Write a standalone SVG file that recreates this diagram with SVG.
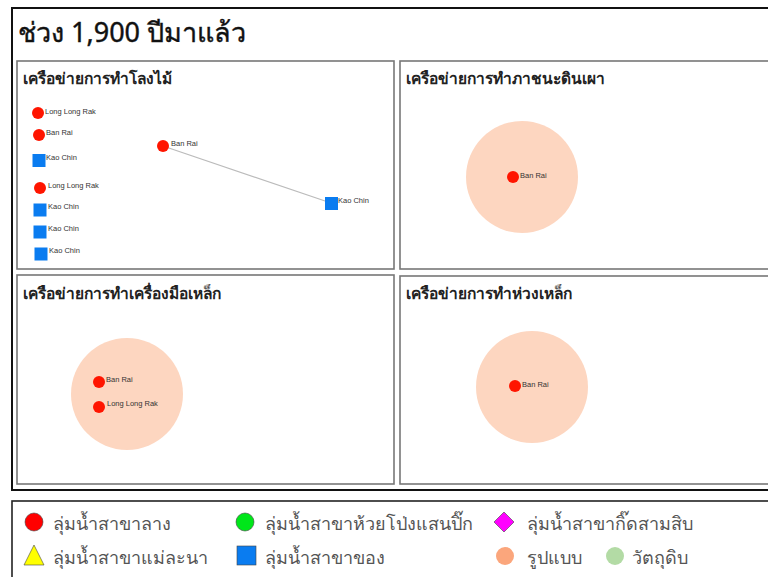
<svg xmlns="http://www.w3.org/2000/svg" width="768" height="577" viewBox="0 0 768 577">
<style>
.frame{fill:#fff;stroke:#111;stroke-width:2}
.panel{fill:#fff;stroke:#777;stroke-width:1.6}
.title{font-family:"Noto Sans","DejaVu Sans",sans-serif;font-size:27px;fill:#111;stroke:#111;stroke-width:0.4}
.ptitle{font-family:"Noto Sans","DejaVu Sans",sans-serif;font-size:15.5px;font-weight:600;fill:#222}
.lbl{font-family:"Liberation Sans","DejaVu Sans",sans-serif;font-size:7.5px;fill:#333}
.leg{font-family:"Noto Sans","DejaVu Sans",sans-serif;font-size:18px;fill:#555}
.red{fill:#ff1500}
.blue{fill:#0a7cf0}
.halo{fill:#fdd6c0}
.edge{stroke:#bbb;stroke-width:1.2;fill:none}
</style>
<rect width="768" height="577" fill="#fff"/>
<rect class="frame" x="12" y="8" width="770" height="482"/>
<text class="title" x="18" y="42">ช่วง 1,900 ปีมาแล้ว</text>

<g id="panel-wood">
<rect class="panel" x="17" y="61" width="377" height="208"/>
<text class="ptitle" x="23" y="84">เครือข่ายการทำโลงไม้</text>
</g>
<g id="panel-pottery">
<rect class="panel" x="400" y="61" width="380" height="208"/>
<text class="ptitle" x="406" y="84">เครือข่ายการทำภาชนะดินเผา</text>
</g>
<g id="panel-irontools">
<rect class="panel" x="17" y="275" width="377" height="209"/>
<text class="ptitle" x="23" y="299">เครือข่ายการทำเครื่องมือเหล็ก</text>
</g>
<g id="panel-ironring">
<rect class="panel" x="400" y="276" width="380" height="208"/>
<text class="ptitle" x="406" y="299">เครือข่ายการทำห่วงเหล็ก</text>
</g>

<g id="connectors">
<line class="edge" x1="163" y1="146" x2="331" y2="203"/>
</g>

<g id="halos">
<circle class="halo" cx="522" cy="177" r="56"/>
<circle class="halo" cx="127" cy="394" r="56"/>
<circle class="halo" cx="532" cy="387" r="56"/>
</g>

<g id="n1"><circle class="red" cx="38" cy="113" r="6"/><text class="lbl" x="45" y="114">Long Long Rak</text></g>
<g id="n2"><circle class="red" cx="39" cy="135" r="6"/><text class="lbl" x="46" y="135">Ban Rai</text></g>
<g id="n3"><rect class="blue" x="32.5" y="154" width="13" height="13"/><text class="lbl" x="46" y="160">Kao Chin</text></g>
<g id="n4"><circle class="red" cx="40" cy="188" r="6"/><text class="lbl" x="48" y="188">Long Long Rak</text></g>
<g id="n5"><rect class="blue" x="33.5" y="203.5" width="13" height="13"/><text class="lbl" x="48" y="209">Kao Chin</text></g>
<g id="n6"><rect class="blue" x="33.5" y="225.5" width="13" height="13"/><text class="lbl" x="48" y="231">Kao Chin</text></g>
<g id="n7"><rect class="blue" x="34.5" y="247.5" width="13" height="13"/><text class="lbl" x="49" y="253">Kao Chin</text></g>
<g id="n8"><circle class="red" cx="163" cy="146" r="6"/><text class="lbl" x="171" y="146">Ban Rai</text></g>
<g id="n9"><rect class="blue" x="325" y="197" width="13" height="13"/><text class="lbl" x="338" y="203">Kao Chin</text></g>
<g id="n10"><circle class="red" cx="513" cy="177" r="6"/><text class="lbl" x="520" y="178">Ban Rai</text></g>
<g id="n11"><circle class="red" cx="99" cy="382" r="6"/><text class="lbl" x="106" y="382">Ban Rai</text></g>
<g id="n12"><circle class="red" cx="99" cy="407" r="6"/><text class="lbl" x="107" y="406">Long Long Rak</text></g>
<g id="n13"><circle class="red" cx="515" cy="386" r="6"/><text class="lbl" x="522" y="387">Ban Rai</text></g>

<g id="legend">
<rect x="12" y="501" width="770" height="80" fill="#fff" stroke="#222" stroke-width="1.6"/>
<circle cx="34" cy="522" r="9" fill="#ff0000" stroke="#444" stroke-width="0.6"/>
<text class="leg" x="53" y="530">ลุ่มน้ำสาขาลาง</text>
<circle cx="245" cy="522" r="9" fill="#00e61a" stroke="#444" stroke-width="0.6"/>
<text class="leg" x="265" y="530">ลุ่มน้ำสาขาห้วยโป่งแสนปิ๊ก</text>
<polygon points="504,512 514,522 504,532 494,522" fill="#ff00ff" stroke="#444" stroke-width="0.6"/>
<text class="leg" x="527" y="530">ลุ่มน้ำสาขากิ๊ดสามสิบ</text>
<polygon points="34,545 44,565 24,565" fill="#ffff00" stroke="#444" stroke-width="0.6"/>
<text class="leg" x="53" y="564">ลุ่มน้ำสาขาแม่ละนา</text>
<rect x="237" y="546" width="19" height="19" fill="#0a7cf0" stroke="#444" stroke-width="0.6"/>
<text class="leg" x="265" y="564">ลุ่มน้ำสาขาของ</text>
<circle cx="505" cy="556" r="9" fill="#fba67c"/>
<text class="leg" x="527" y="564">รูปแบบ</text>
<circle cx="615" cy="556" r="9" fill="#b3dba5"/>
<text class="leg" x="632" y="564">วัตถุดิบ</text>
</g>
</svg>
